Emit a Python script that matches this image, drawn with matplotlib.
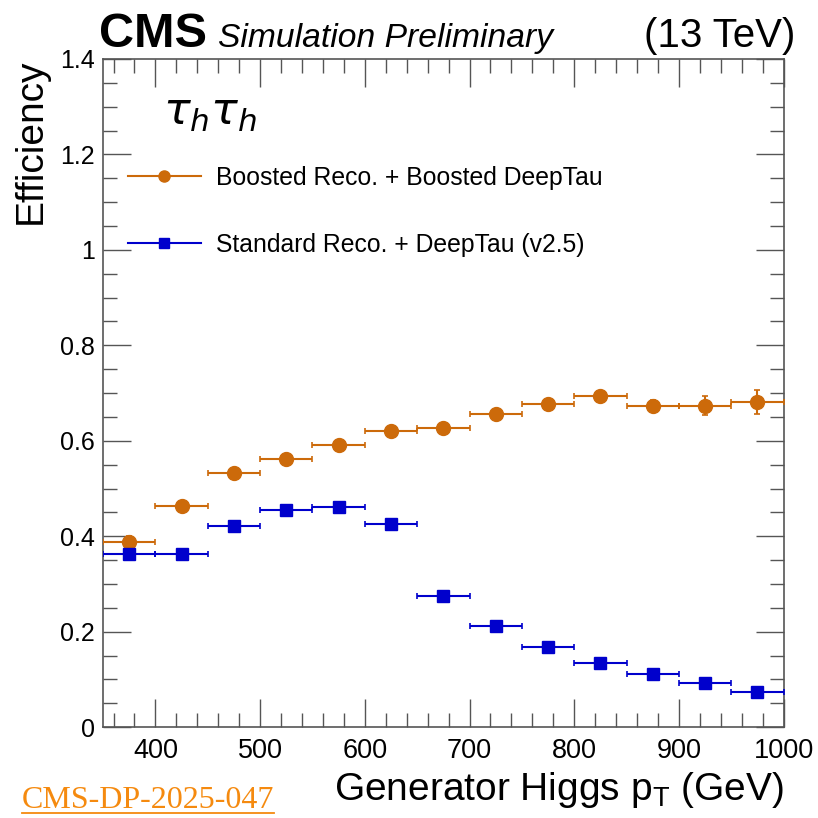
import matplotlib
matplotlib.use("Agg")
import matplotlib.pyplot as plt
from matplotlib.lines import Line2D
from matplotlib.ticker import MultipleLocator
import numpy as np

# Generator Higgs pT bins (GeV)
bin_lo = [350, 400, 450, 500, 550, 600, 650, 700, 750, 800, 850, 900, 950]
bin_hi = [400, 450, 500, 550, 600, 650, 700, 750, 800, 850, 900, 950, 1000]

# Boosted Reco. + Boosted DeepTau
eff_boosted = [0.389, 0.464, 0.533, 0.561, 0.591, 0.621, 0.627, 0.657, 0.677, 0.694, 0.673, 0.673, 0.681]
err_boosted = [0.012, 0.008, 0.007, 0.006, 0.006, 0.006, 0.006, 0.007, 0.008, 0.008, 0.012, 0.020, 0.025]

# Standard Reco. + DeepTau (v2.5)
eff_standard = [0.363, 0.363, 0.421, 0.455, 0.462, 0.425, 0.274, 0.213, 0.169, 0.135, 0.111, 0.092, 0.073]
err_standard = [0.012, 0.010, 0.008, 0.006, 0.006, 0.006, 0.006, 0.006, 0.006, 0.006, 0.007, 0.010, 0.012]

x_ticks = [400, 500, 600, 700, 800, 900, 1000]
y_ticks = [0, 0.2, 0.4, 0.6, 0.8, 1.0, 1.2, 1.4]
y_tick_labels = ["0", "0.2", "0.4", "0.6", "0.8", "1", "1.2", "1.4"]

ORANGE = "#cc6a0a"
BLUE = "#0000cc"
FRAME = "#555555"

plt.rcParams["font.family"] = ["Liberation Sans", "DejaVu Sans"]
plt.rcParams["mathtext.fontset"] = "custom"
plt.rcParams["mathtext.rm"] = "Liberation Sans"
plt.rcParams["mathtext.it"] = "Liberation Sans:italic"

fig = plt.figure(figsize=(8.18, 8.18), dpi=100)
ax = fig.add_axes([0.126, 0.111, 0.832, 0.817])

lo = np.array(bin_lo, dtype=float)
hi = np.array(bin_hi, dtype=float)
centers = 0.5 * (lo + hi)
xerr = 0.5 * (hi - lo)

ax.errorbar(centers, eff_boosted, xerr=xerr, yerr=err_boosted, fmt="o",
            color=ORANGE, ms=10, elinewidth=1.5, capsize=2, capthick=1.2,
            zorder=3)
ax.errorbar(centers, eff_standard, xerr=xerr, yerr=err_standard, fmt="s",
            color=BLUE, ms=8.5, elinewidth=1.5, capsize=2, capthick=1.2,
            zorder=3)

ax.set_xlim(350, 1000)
ax.set_ylim(0, 1.4)
ax.set_xticks(x_ticks)
ax.set_yticks(y_ticks)
ax.set_yticklabels(y_tick_labels)
ax.xaxis.set_minor_locator(MultipleLocator(20))
ax.yaxis.set_minor_locator(MultipleLocator(0.05))
ax.tick_params(which="both", direction="in", top=True, right=True,
               color=FRAME, width=1.0)
ax.tick_params(which="major", length=20)
ax.tick_params(which="minor", length=10)
ax.tick_params(axis="x", labelsize=19.5, pad=8)
ax.tick_params(axis="y", labelsize=18, pad=6)
for sp in ax.spines.values():
    sp.set_color(FRAME)
    sp.set_linewidth(1.2)

ax.set_xlabel(r"Generator Higgs p$_{\mathregular{T}}$ (GeV)", fontsize=28,
              loc="right", labelpad=4)
ax.set_ylabel("Efficiency", fontsize=28, loc="top", labelpad=8)

# Header
fig.text(0.121, 0.942, "CMS", fontsize=35, fontweight="bold",
         ha="left", va="baseline")
fig.text(0.266, 0.942, "Simulation Preliminary", fontsize=24.2, style="italic",
         ha="left", va="baseline")
fig.text(0.972, 0.942, "(13 TeV)", fontsize=29, ha="right", va="baseline")

# Channel label
ax.text(0.088, 0.918, r"$\tau_{h}\tau_{h}$", transform=ax.transAxes,
        fontsize=32, ha="left", va="center", math_fontfamily="dejavusans")

# Legend
handles = [
    Line2D([], [], color=ORANGE, marker="o", ms=8, lw=1.5),
    Line2D([], [], color=BLUE, marker="s", ms=7, lw=1.5),
]
labels = ["Boosted Reco. + Boosted DeepTau", "Standard Reco. + DeepTau (v2.5)"]
ax.legend(handles, labels, loc="upper left", bbox_to_anchor=(0.022, 0.855),
          frameon=False, fontsize=17.8, handlelength=2.95, handletextpad=0.6,
          labelspacing=1.75, borderaxespad=0)

# Document reference
dp = fig.text(0.027, 0.012, "CMS-DP-2025-047", fontsize=23, color="#f58a0f",
              family=["Liberation Serif", "DejaVu Serif"], ha="left", va="baseline")
fig.canvas.draw()
bb = dp.get_window_extent().transformed(fig.transFigure.inverted())
fig.add_artist(Line2D([bb.x0, bb.x1], [0.006, 0.006], color="#f58a0f", lw=1.3,
                      transform=fig.transFigure))

fig.savefig("out.png", dpi=100)
